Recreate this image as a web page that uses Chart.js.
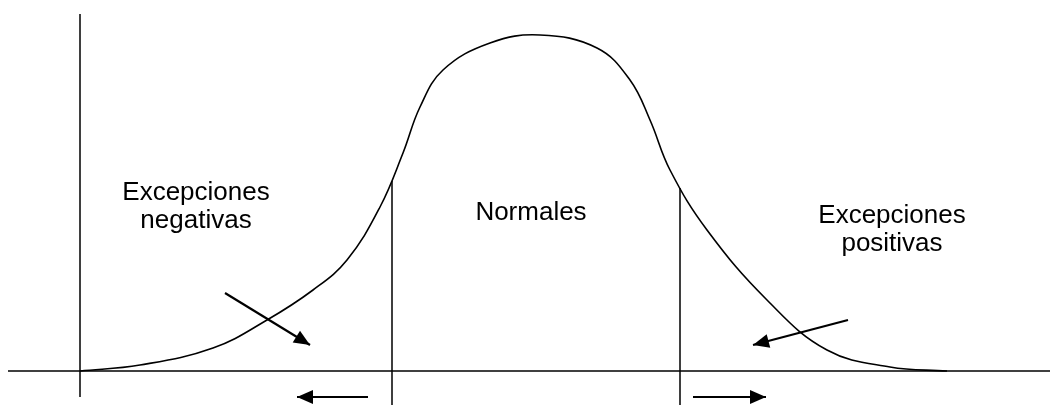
<!DOCTYPE html>
<html>
<head>
<meta charset="utf-8">
<script src="https://cdn.jsdelivr.net/npm/chart.js@4/dist/chart.umd.min.js"></script>
<style>
html,body{margin:0;padding:0;background:#fff;}
#wrap{width:1050px;height:405px;}
</style>
</head>
<body>
<div id="wrap"><canvas id="c" width="1050" height="405"></canvas></div>
<script>
// Distribution curve (x, y) in diagram units (origin at the axes crossing)
const curveX = [0, 60, 133, 187, 233, 267, 300, 323, 340, 363, 410, 460, 517, 550, 570, 590, 627, 687, 747, 810, 867];
const curveY = [0, 6, 23, 51, 81, 111, 164, 218, 264, 301, 328, 336, 323, 291, 251, 201, 141, 71, 21, 4, 0];

// Axis lines
const baseAxisX = [-72, 970];
const baseAxisY = [0, 0];
const vertAxisX = [0, 0];
const vertAxisY = [357, -26];

// Boundaries between groups
const cutX = [312, 600];
const cutTopY = [190, 183];
const cutBottomY = -34;

// Arrows: [x0, y0, x1, y1] (head at x1, y1)
const arrowNeg = [145, 78, 230, 26];
const arrowPos = [768, 51, 673, 26];
const arrowLeft = [288, -26, 217, -26];
const arrowRight = [613, -26, 686, -26];

// Labels
const labelTexts = [["Excepciones", "negativas"], ["Normales"], ["Excepciones", "positivas"]];
const labelX = [116, 451, 812];
const labelY = [171, 151, 148];
const lineGap = 28;

function pts(xs, ys) { return xs.map((x, i) => ({x: x, y: ys[i]})); }
function seg(a) { return [{x: a[0], y: a[1]}, {x: a[2], y: a[3]}]; }

const black = '#000';
const datasets = [
  {data: pts(curveX, curveY), borderColor: black, borderWidth: 1.6, tension: 0.4},
  {data: pts(baseAxisX, baseAxisY), borderColor: black, borderWidth: 1.5},
  {data: pts(vertAxisX, vertAxisY), borderColor: black, borderWidth: 1.5},
  {data: [{x: cutX[0], y: cutTopY[0]}, {x: cutX[0], y: cutBottomY}], borderColor: black, borderWidth: 1.5},
  {data: [{x: cutX[1], y: cutTopY[1]}, {x: cutX[1], y: cutBottomY}], borderColor: black, borderWidth: 1.5},
  {data: seg(arrowNeg), borderColor: black, borderWidth: 2.2, arrow: true},
  {data: seg(arrowPos), borderColor: black, borderWidth: 2.2, arrow: true},
  {data: seg(arrowLeft), borderColor: black, borderWidth: 2.2, arrow: true},
  {data: seg(arrowRight), borderColor: black, borderWidth: 2.2, arrow: true}
].map(d => Object.assign({showLine: true, pointRadius: 0, fill: false}, d));

const arrowPlugin = {
  id: 'arrowheads',
  afterDatasetsDraw(chart) {
    const ctx = chart.ctx;
    chart.data.datasets.forEach((ds, i) => {
      if (!ds.arrow) return;
      const m = chart.getDatasetMeta(i).data;
      const a = m[m.length - 2], b = m[m.length - 1];
      const ang = Math.atan2(b.y - a.y, b.x - a.x);
      const L = 16, W = 7;
      ctx.save();
      ctx.fillStyle = black;
      ctx.translate(b.x, b.y);
      ctx.rotate(ang);
      ctx.beginPath();
      ctx.moveTo(0, 0);
      ctx.lineTo(-L, -W);
      ctx.lineTo(-L, W);
      ctx.closePath();
      ctx.fill();
      ctx.restore();
    });
  }
};

const labelPlugin = {
  id: 'labels',
  afterDraw(chart) {
    const ctx = chart.ctx;
    const xs = chart.scales.x, ys = chart.scales.y;
    ctx.save();
    ctx.fillStyle = black;
    ctx.font = '26px "Liberation Sans", Arial, sans-serif';
    ctx.textAlign = 'center';
    ctx.textBaseline = 'alphabetic';
    labelTexts.forEach((lines, i) => {
      const px = xs.getPixelForValue(labelX[i]);
      const py = ys.getPixelForValue(labelY[i]);
      lines.forEach((t, j) => ctx.fillText(t, px, py + j * lineGap));
    });
    ctx.restore();
  }
};

new Chart(document.getElementById('c'), {
  type: 'scatter',
  data: {datasets: datasets},
  options: {
    responsive: false,
    animation: false,
    layout: {padding: 0},
    plugins: {legend: {display: false}, tooltip: {enabled: false}},
    scales: {
      x: {type: 'linear', min: -80, max: 970, display: false},
      y: {type: 'linear', min: -34, max: 371, display: false}
    },
    elements: {line: {borderCapStyle: 'butt'}}
  },
  plugins: [arrowPlugin, labelPlugin]
});
</script>
</body>
</html>
